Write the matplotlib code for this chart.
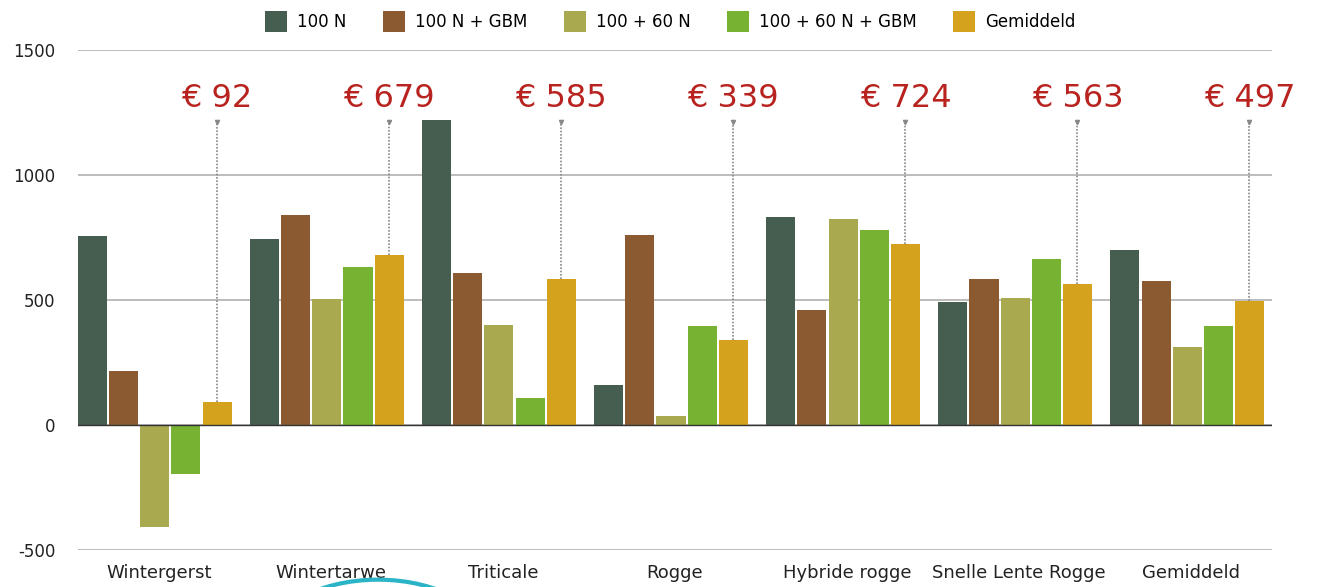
import numpy as np
import matplotlib
matplotlib.use("Agg")
import matplotlib.pyplot as plt
from matplotlib.patches import Arc

plt.rcParams["axes.unicode_minus"] = False

categories = ["Wintergerst", "Wintertarwe", "Triticale", "Rogge",
              "Hybride rogge", "Snelle Lente Rogge", "Gemiddeld"]
series = ["100 N", "100 N + GBM", "100 + 60 N", "100 + 60 N + GBM", "Gemiddeld"]
v_100n = [756, 744, 1220, 160, 832, 492, 700]
v_100n_gbm = [216, 840, 608, 760, 460, 584, 576]
v_100_60n = [-408, 504, 400, 36, 824, 508, 312]
v_100_60n_gbm = [-196, 632, 108, 396, 780, 664, 396]
v_gem = [92, 679, 585, 339, 724, 563, 497]
labels = ["€ 92", "€ 679", "€ 585", "€ 339", "€ 724", "€ 563", "€ 497"]

colors = ["#465e4f", "#8b5a30", "#a9a94f", "#77b233", "#d4a21c"]
values = [v_100n, v_100n_gbm, v_100_60n, v_100_60n_gbm, v_gem]

fig = plt.figure(figsize=(13.21, 5.87), dpi=100)
ax = fig.add_axes([0.059, 0.063, 0.904, 0.852])

x = np.arange(len(categories))
w = 0.181
for i, (vals, col, name) in enumerate(zip(values, colors, series)):
    ax.bar(x - 0.5 + 0.03 + w * i, vals, width=w - 0.012, align="edge",
           color=col, label=name, zorder=3)

ax.set_xlim(-0.47, 6.47)
ax.set_ylim(-500, 1500)
ax.set_yticks([-500, 0, 500, 1000, 1500])
ax.grid(axis="y", color="#b0b0b0", lw=1.2, zorder=0)
ax.axhline(0, color="#333333", lw=1.0, zorder=4)
for s in ax.spines.values():
    s.set_visible(False)
ax.tick_params(length=0, labelsize=12, colors="#222222")
ax.set_xticks(x)
ax.set_xticklabels(categories, fontsize=13)
ax.tick_params(axis="y", pad=16)
ax.tick_params(axis="x", pad=10)

# annotations above the "Gemiddeld" bars
for xi, v, txt in zip(x, v_gem, labels):
    xc = xi - 0.5 + 0.03 + w * 4 + (w - 0.012) / 2
    ax.plot([xc, xc], [max(v, 0), 1212], ls=(0, (1, 1)), color="#888888",
            lw=1.2, zorder=5, clip_on=False)
    ax.plot([xc], [1212], marker="v", ms=3, color="#888888", clip_on=False)
    ax.text(xc, 1305, txt, ha="center", va="center", fontsize=23,
            color="#b8231f", zorder=6)

ax.legend(loc="lower center", bbox_to_anchor=(0.496, 1.015), ncol=5,
          frameon=False, fontsize=12, handlelength=1.3, handleheight=1.6,
          columnspacing=2.2, handletextpad=0.6, borderaxespad=0.2)

# decorative cyan arc at the bottom edge
arc = Arc((378 / 1321, -0.10), 0.17, 0.225, theta1=0, theta2=180,
          transform=fig.transFigure, color="#2bb3c8", lw=3, clip_on=False)
fig.add_artist(arc)

fig.savefig("out.png", dpi=100)
